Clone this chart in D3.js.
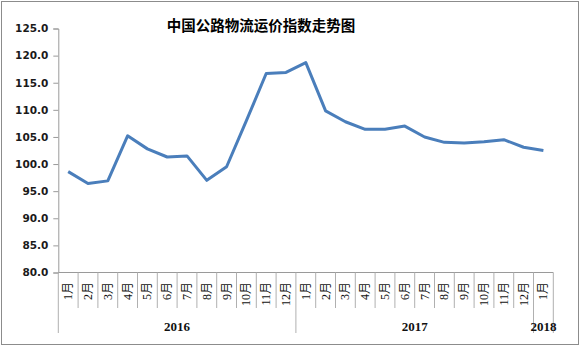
<!DOCTYPE html>
<html>
<head>
<meta charset="utf-8">
<script src="https://cdn.jsdelivr.net/npm/d3@7"></script>
<style>
  body { margin: 0; background: #fff; }
</style>
</head>
<body>
<div id="chart"></div>
<script>
// 数据
var months = ["1月","2月","3月","4月","5月","6月","7月","8月","9月","10月","11月","12月",
              "1月","2月","3月","4月","5月","6月","7月","8月","9月","10月","11月","12月",
              "1月"];
var values = [98.6, 96.4, 96.9, 105.2, 102.8, 101.3, 101.5, 97.0, 99.5, 108.0, 116.7, 116.9,
              118.7, 109.8, 107.8, 106.4, 106.4, 107.0, 105.0, 104.0, 103.9, 104.1, 104.5, 103.1,
              102.5];
var years = ["2016", "2017", "2018"];
var yearCounts = [12, 12, 1];
var yTicks = [80, 85, 90, 95, 100, 105, 110, 115, 120, 125];

var width = 580, height = 347;
var plot = {left: 58.3, right: 553.3, top: 28.5, bottom: 272.5};

var svg = d3.select("#chart")
            .append("svg")
            .attr("width", width)
            .attr("height", height);

// 外框
svg.append("rect")
   .attr("x", 1.5).attr("y", 1.5)
   .attr("width", 577).attr("height", 343)
   .attr("fill", "none")
   .attr("stroke", "#8c8c8c");

var xScale = d3.scaleBand()
               .domain(d3.range(months.length))
               .range([plot.left, plot.right])
               .paddingInner(0).paddingOuter(0);
var yScale = d3.scaleLinear()
               .domain([80, 125])
               .range([plot.bottom, plot.top]);

// 标题
svg.append("text")
   .attr("x", 261)
   .attr("y", 31)
   .attr("text-anchor", "middle")
   .attr("font-family", "'Noto Sans CJK SC', sans-serif")
   .attr("font-weight", "bold")
   .attr("font-size", 14.5)
   .attr("fill", "#000")
   .text("中国公路物流运价指数走势图");

// y 轴
var yAxis = svg.append("g")
   .attr("transform", "translate(" + plot.left + ",0)")
   .call(d3.axisLeft(yScale).tickValues(yTicks).tickSize(5).tickPadding(5)
           .tickFormat(d3.format(".1f")));
yAxis.select(".domain").attr("stroke", "#9a9a9a");
yAxis.selectAll(".tick line").attr("stroke", "#9a9a9a");
yAxis.selectAll(".tick text")
     .attr("font-family", "'DejaVu Sans', sans-serif")
     .attr("font-weight", "bold")
     .attr("font-size", 10.5)
     .attr("fill", "#1a1a1a");

// x 轴 (两级分类)
var xg = svg.append("g");
xg.append("line")
  .attr("x1", plot.left).attr("x2", plot.right)
  .attr("y1", plot.bottom).attr("y2", plot.bottom)
  .attr("stroke", "#9a9a9a");

// 年份分界
var yearStarts = [];
var acc = 0;
yearCounts.forEach(function(n) { yearStarts.push(acc); acc += n; });

var bounds = d3.range(months.length + 1);
xg.selectAll("line.mtick")
  .data(bounds)
  .join("line")
  .attr("class", "mtick")
  .attr("x1", d => d < months.length ? xScale(d) : plot.right)
  .attr("x2", d => d < months.length ? xScale(d) : plot.right)
  .attr("y1", plot.bottom)
  .attr("y2", d => (yearStarts.indexOf(d) >= 0 || d === months.length) ? 333 : 308)
  .attr("stroke", "#b0b0b0");

xg.selectAll("text.month")
  .data(months)
  .join("text")
  .attr("class", "month")
  .attr("transform", (d, i) => "translate(" + (xScale(i) + xScale.bandwidth() / 2 + 4) + ",282) rotate(-90)")
  .attr("text-anchor", "end")
  .attr("font-family", "'Liberation Serif', 'Noto Sans CJK SC', serif")
  .attr("font-size", 12)
  .attr("fill", "#111")
  .text(d => d);

xg.selectAll("text.year")
  .data(years)
  .join("text")
  .attr("class", "year")
  .attr("x", (d, i) => {
      var s = yearStarts[i], e = s + yearCounts[i];
      var x0 = xScale(s);
      var x1 = e < months.length ? xScale(e) : plot.right;
      return (x0 + x1) / 2;
  })
  .attr("y", 331)
  .attr("text-anchor", "middle")
  .attr("font-family", "'Liberation Serif', serif")
  .attr("font-weight", "bold")
  .attr("font-size", 13)
  .attr("fill", "#111")
  .text(d => d);

// 折线
var line = d3.line()
             .x((d, i) => xScale(i) + xScale.bandwidth() / 2)
             .y(d => yScale(d));

svg.append("path")
   .datum(values)
   .attr("d", line)
   .attr("fill", "none")
   .attr("stroke", "#4a7ebb")
   .attr("stroke-width", 3)
   .attr("stroke-linejoin", "round");
</script>
</body>
</html>
